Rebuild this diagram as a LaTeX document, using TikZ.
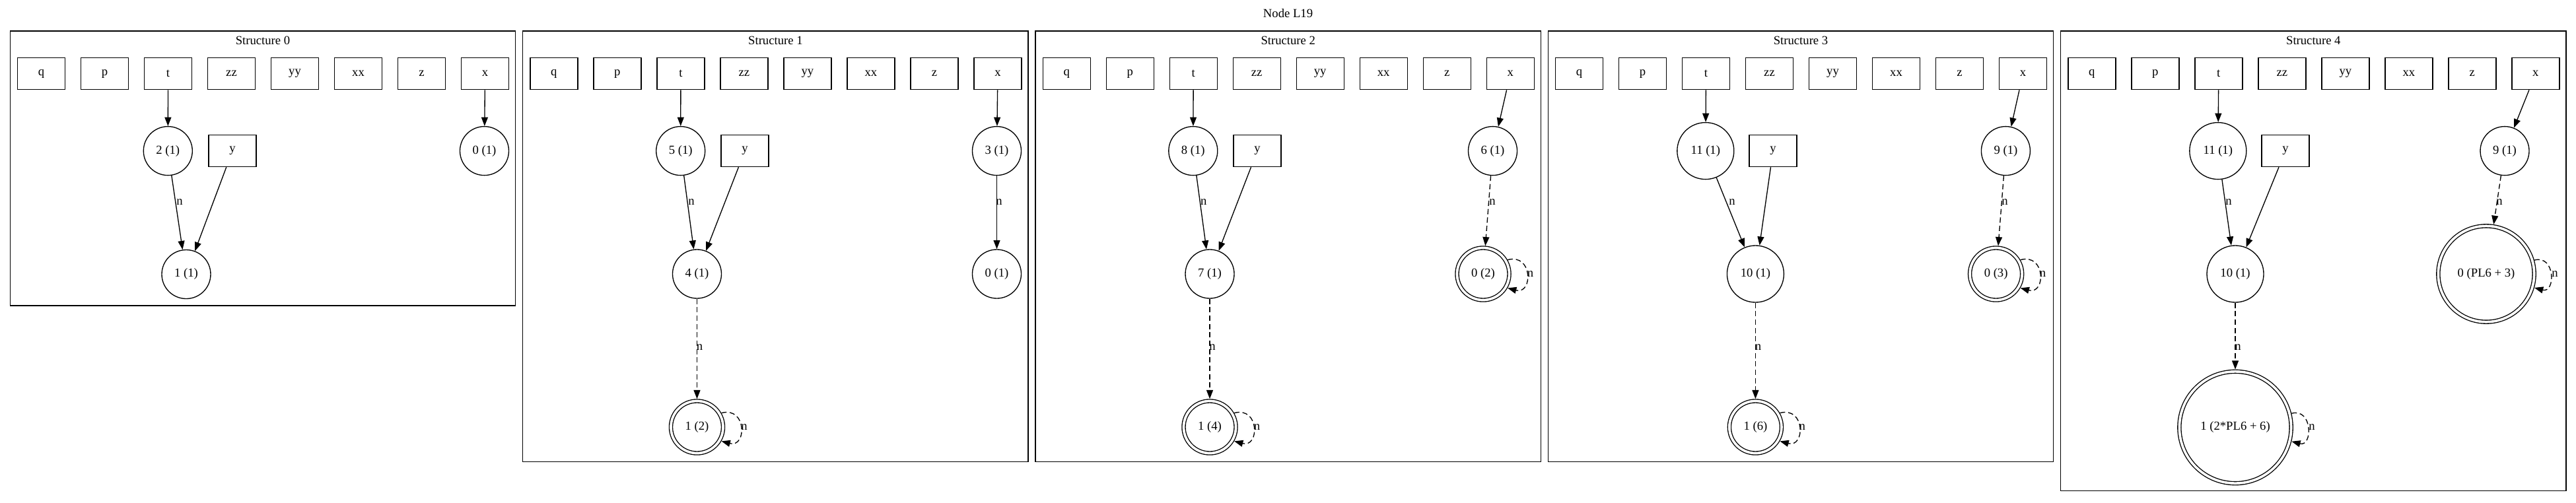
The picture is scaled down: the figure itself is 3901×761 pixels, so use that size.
\documentclass[tikz,border=0pt]{standalone}
\usepackage{fontspec}
\setmainfont{Liberation Serif}
\usetikzlibrary{arrows.meta}
\tikzset{
  every node/.style={font=\fontsize{14}{16}\selectfont},
  box/.style={draw, rectangle, minimum width=54pt, minimum height=36pt, inner sep=0pt},
  circ/.style={draw, circle, minimum size=55.5pt, inner sep=0pt},
  wcirc/.style={draw, circle, minimum size=64.5pt, inner sep=0pt},
  dcirc/.style={draw, circle, double, double distance=2.8pt, inner sep=0pt, outer sep=2.4pt, minimum size=#1},
  cluster/.style={draw, line width=1pt},
  conn/.style={draw, line width=1pt, -{Triangle[length=10pt,width=7.5pt]}},
  dconn/.style={conn, dash pattern=on 6pt off 3.5pt},
  lab/.style={inner sep=0pt},
  title/.style={inner sep=0pt},
}
\begin{document}
\begin{tikzpicture}[x=0.75pt,y=0.75pt,line width=1pt]
\useasboundingbox (0,0) rectangle (3901,-761);
\node[title] (maintitle) at (1950.5,-20.4) {Node L19};

% ---------- Structure 0 ----------
\draw[cluster] (15.3,-47) rectangle (780.6,-463);
\node[title] (s0title) at (398,-61.7) {Structure 0};
\node[box] (s0q) at (62.5,-111.7) {q};
\node[box] (s0p) at (158.5,-111.7) {p};
\node[box] (s0t) at (254.5,-111.7) {t};
\node[box] (s0zz) at (350.5,-111.7) {zz};
\node[box] (s0yy) at (446.5,-111.7) {yy};
\node[box] (s0xx) at (542.5,-111.7) {xx};
\node[box] (s0z) at (638.5,-111.7) {z};
\node[box] (s0x) at (734.5,-111.7) {x};
\node[circ] (s0c2) at (254.3,-228.6) {2 (1)};
\node[box] (s0y) at (352,-228.6) {y};
\node[circ] (s0c0) at (733.5,-228.6) {0 (1)};
\node[circ] (s0c1) at (282,-415.5) {1 (1)};
\draw[conn] (s0t) -- (s0c2);
\draw[conn] (s0c2) -- (s0c1);
\draw[conn] (s0y) -- (s0c1);
\draw[conn] (s0x) -- (s0c0);
\node[lab] (s0l1) at (272,-306) {n};

% ---------- Structure 1 ----------
\draw[cluster] (791.7,-47) rectangle (1557,-699.5);
\node[title] (s1title) at (1174.4,-61.7) {Structure 1};
\node[box] (s1q) at (838.9,-111.7) {q};
\node[box] (s1p) at (934.9,-111.7) {p};
\node[box] (s1t) at (1030.9,-111.7) {t};
\node[box] (s1zz) at (1126.9,-111.7) {zz};
\node[box] (s1yy) at (1222.9,-111.7) {yy};
\node[box] (s1xx) at (1318.9,-111.7) {xx};
\node[box] (s1z) at (1414.9,-111.7) {z};
\node[box] (s1x) at (1510.9,-111.7) {x};
\node[circ] (s1c5) at (1030.7,-228.6) {5 (1)};
\node[box] (s1y) at (1128,-228.6) {y};
\node[circ] (s1c3) at (1509.5,-228.6) {3 (1)};
\node[circ] (s1c4) at (1055.5,-415) {4 (1)};
\node[circ] (s1c0) at (1509.5,-415) {0 (1)};
\node[dcirc=59.3pt] (s1d1) at (1055.5,-647) {1 (2)};
\draw[conn] (s1t) -- (s1c5);
\draw[conn] (s1c5) -- (s1c4);
\draw[conn] (s1y) -- (s1c4);
\draw[dconn] (s1c4) -- (s1d1);
\draw[conn] (s1x) -- (s1c3);
\draw[conn] (s1c3) -- (s1c0);
\draw[dconn] (s1d1.30) to[out=15,in=-15,distance=30pt] (s1d1.-30);
\node[lab] (s1l1) at (1047,-306) {n};
\node[lab] (s1l2) at (1059.6,-525.7) {n};
\node[lab] (s1l3) at (1513,-306) {n};
\node[lab] (s1l4) at (1127,-647) {n};

% ---------- Structure 2 ----------
\draw[cluster] (1568,-47) rectangle (2333.3,-699.5);
\node[title] (s2title) at (1950.7,-61.7) {Structure 2};
\node[box] (s2q) at (1615.2,-111.7) {q};
\node[box] (s2p) at (1711.2,-111.7) {p};
\node[box] (s2t) at (1807.2,-111.7) {t};
\node[box] (s2zz) at (1903.2,-111.7) {zz};
\node[box] (s2yy) at (1999.2,-111.7) {yy};
\node[box] (s2xx) at (2095.2,-111.7) {xx};
\node[box] (s2z) at (2191.2,-111.7) {z};
\node[box] (s2x) at (2287.2,-111.7) {x};
\node[circ] (s2c8) at (1806.8,-228.6) {8 (1)};
\node[box] (s2y) at (1904,-228.6) {y};
\node[circ] (s2c6) at (2260.5,-228.6) {6 (1)};
\node[circ] (s2c7) at (1832,-415) {7 (1)};
\node[dcirc=59.3pt] (s2d0) at (2246,-415) {0 (2)};
\node[dcirc=59.3pt] (s2d1) at (1832,-647) {1 (4)};
\draw[conn] (s2t) -- (s2c8);
\draw[conn] (s2c8) -- (s2c7);
\draw[conn] (s2y) -- (s2c7);
\draw[dconn] (s2c7) -- (s2d1);
\draw[conn] (s2x) -- (s2c6);
\draw[dconn] (s2c6) -- (s2d0);
\draw[dconn] (s2d0.30) to[out=15,in=-15,distance=30pt] (s2d0.-30);
\draw[dconn] (s2d1.30) to[out=15,in=-15,distance=30pt] (s2d1.-30);
\node[lab] (s2l1) at (1822.8,-306) {n};
\node[lab] (s2l2) at (1836,-525.7) {n};
\node[lab] (s2l3) at (2260,-306) {n};
\node[lab] (s2l4) at (2317.5,-415) {n};
\node[lab] (s2l5) at (1903.5,-647) {n};

% ---------- Structure 3 ----------
\draw[cluster] (2344.3,-47) rectangle (3109.6,-699.5);
\node[title] (s3title) at (2727,-61.7) {Structure 3};
\node[box] (s3q) at (2391.5,-111.7) {q};
\node[box] (s3p) at (2487.5,-111.7) {p};
\node[box] (s3t) at (2583.5,-111.7) {t};
\node[box] (s3zz) at (2679.5,-111.7) {zz};
\node[box] (s3yy) at (2775.5,-111.7) {yy};
\node[box] (s3xx) at (2871.5,-111.7) {xx};
\node[box] (s3z) at (2967.5,-111.7) {z};
\node[box] (s3x) at (3063.5,-111.7) {x};
\node[wcirc] (s3c11) at (2582.8,-228.6) {11 (1)};
\node[box] (s3y) at (2685,-228.6) {y};
\node[circ] (s3c9) at (3037.4,-228.6) {9 (1)};
\node[wcirc] (s3c10) at (2658.4,-415) {10 (1)};
\node[dcirc=59.3pt] (s3d0) at (3022.6,-415) {0 (3)};
\node[dcirc=59.3pt] (s3d1) at (2658.4,-647) {1 (6)};
\draw[conn] (s3t) -- (s3c11);
\draw[conn] (s3c11) -- (s3c10);
\draw[conn] (s3y) -- (s3c10);
\draw[dconn] (s3c10) -- (s3d1);
\draw[conn] (s3x) -- (s3c9);
\draw[dconn] (s3c9) -- (s3d0);
\draw[dconn] (s3d0.30) to[out=15,in=-15,distance=30pt] (s3d0.-30);
\draw[dconn] (s3d1.30) to[out=15,in=-15,distance=30pt] (s3d1.-30);
\node[lab] (s3l1) at (2623,-306) {n};
\node[lab] (s3l2) at (2662.4,-525.7) {n};
\node[lab] (s3l3) at (3036,-306) {n};
\node[lab] (s3l4) at (3093.6,-415) {n};
\node[lab] (s3l5) at (2729.3,-647) {n};

% ---------- Structure 4 ----------
\draw[cluster] (3120.6,-47) rectangle (3885.9,-743.5);
\node[title] (s4title) at (3503.3,-61.7) {Structure 4};
\node[box] (s4q) at (3167.8,-111.7) {q};
\node[box] (s4p) at (3263.8,-111.7) {p};
\node[box] (s4t) at (3359.8,-111.7) {t};
\node[box] (s4zz) at (3455.8,-111.7) {zz};
\node[box] (s4yy) at (3551.8,-111.7) {yy};
\node[box] (s4xx) at (3647.8,-111.7) {xx};
\node[box] (s4z) at (3743.8,-111.7) {z};
\node[box] (s4x) at (3839.8,-111.7) {x};
\node[wcirc] (s4c11) at (3358.8,-228.6) {11 (1)};
\node[box] (s4y) at (3461,-228.6) {y};
\node[circ] (s4c9) at (3793,-228.6) {9 (1)};
\node[wcirc] (s4c10) at (3385,-415) {10 (1)};
\node[dcirc=109pt] (s4d0) at (3765,-415) {0 (PL6 + 3)};
\node[dcirc=127pt] (s4d1) at (3385,-647.5) {1 (2*PL6 + 6)};
\draw[conn] (s4t) -- (s4c11);
\draw[conn] (s4c11) -- (s4c10);
\draw[conn] (s4y) -- (s4c10);
\draw[dconn] (s4c10) -- (s4d1);
\draw[conn] (s4x) -- (s4c9);
\draw[dconn] (s4c9) -- (s4d0);
\draw[dconn] (s4d0.16) to[out=15,in=-15,distance=25pt] (s4d0.-16);
\draw[dconn] (s4d1.14) to[out=15,in=-15,distance=25pt] (s4d1.-14);
\node[lab] (s4l1) at (3375,-306) {n};
\node[lab] (s4l2) at (3389,-525.7) {n};
\node[lab] (s4l3) at (3785,-306) {n};
\node[lab] (s4l4) at (3869,-415) {n};
\node[lab] (s4l5) at (3501,-647.5) {n};
\end{tikzpicture}
\end{document}
